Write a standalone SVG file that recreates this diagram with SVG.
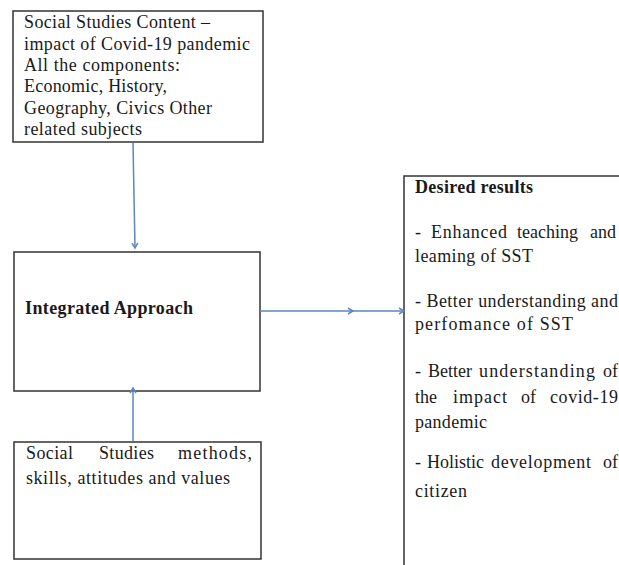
<svg xmlns="http://www.w3.org/2000/svg" width="619" height="565" viewBox="0 0 619 565">
<style>
.box{fill:#fff;stroke:#333;stroke-width:1.5}
.t{font-size:18px;fill:#1a1a1a}
.b{font-weight:bold}
.c{stroke:#5b87c2;stroke-width:1.5;fill:none}
</style>
<defs>
<marker id="ah" markerWidth="8" markerHeight="8" refX="6" refY="4" orient="auto" markerUnits="userSpaceOnUse">
<path d="M1,1 L6,4 L1,7" fill="none" stroke="#5b87c2" stroke-width="1.5"/>
</marker>
</defs>
<rect width="619" height="565" fill="#fff"/>
<g id="content" font-family="'Liberation Serif', serif">
<rect class="box" x="13" y="11" width="250" height="131"/>
<text class="t" x="24" y="28" textLength="186" lengthAdjust="spacing">Social Studies Content –</text>
<text class="t" x="24" y="50" textLength="226" lengthAdjust="spacing">impact of Covid-19 pandemic</text>
<text class="t" x="24" y="71" textLength="156" lengthAdjust="spacing">All the components:</text>
<text class="t" x="24" y="92" textLength="143" lengthAdjust="spacing">Economic, History,</text>
<text class="t" x="24" y="114" textLength="188" lengthAdjust="spacing">Geography, Civics Other</text>
<text class="t" x="24" y="135" textLength="118" lengthAdjust="spacing">related subjects</text>
</g>
<g id="approach" font-family="'Liberation Serif', serif">
<rect class="box" x="14" y="252" width="246" height="139"/>
<text class="t b" x="25" y="314" textLength="168" lengthAdjust="spacing">Integrated Approach</text>
</g>
<g id="methods" font-family="'Liberation Serif', serif">
<rect class="box" x="14" y="442" width="247" height="117"/>
<text class="t" y="459"><tspan x="26" textLength="47">Social</tspan> <tspan x="99" textLength="55">Studies</tspan> <tspan x="178" textLength="74">methods,</tspan></text>
<text class="t" x="26" y="484" textLength="204" lengthAdjust="spacing">skills, attitudes and values</text>
</g>
<g id="results" font-family="'Liberation Serif', serif">
<rect class="box" x="404" y="176" width="300" height="500"/>
<text class="t b" x="415" y="193" textLength="118" lengthAdjust="spacing">Desired results</text>
<text class="t" y="238"><tspan x="415">-</tspan> <tspan x="431" textLength="76">Enhanced</tspan> <tspan x="517" textLength="61">teaching</tspan> <tspan x="590">and</tspan></text>
<text class="t" x="415" y="262" textLength="118" lengthAdjust="spacing">leaming of SST</text>
<text class="t" x="415" y="307" textLength="203" lengthAdjust="spacing">- Better understanding and</text>
<text class="t" x="415" y="330" textLength="158" lengthAdjust="spacing">perfomance of SST</text>
<text class="t" y="377"><tspan x="415">-</tspan> <tspan x="428">Better</tspan> <tspan x="479" textLength="116">understanding</tspan> <tspan x="603">of</tspan></text>
<text class="t" y="403"><tspan x="415">the</tspan> <tspan x="453" textLength="54">impact</tspan> <tspan x="521">of</tspan> <tspan x="550" textLength="68">covid-19</tspan></text>
<text class="t" x="415" y="428" textLength="72" lengthAdjust="spacing">pandemic</text>
<text class="t" y="468"><tspan x="415">-</tspan> <tspan x="427">Holistic</tspan> <tspan x="491" textLength="100">development</tspan> <tspan x="603">of</tspan></text>
<text class="t" x="415" y="497" textLength="52" lengthAdjust="spacing">citizen</text>
</g>
<g id="connectors">
<line class="c" x1="133" y1="143" x2="135" y2="248" marker-end="url(#ah)"/>
<line class="c" x1="133" y1="441" x2="133" y2="388" marker-end="url(#ah)"/>
<line class="c" x1="260" y1="311" x2="353" y2="311" marker-end="url(#ah)"/>
<line class="c" x1="353" y1="311" x2="404" y2="311" marker-end="url(#ah)"/>
</g>
</svg>
